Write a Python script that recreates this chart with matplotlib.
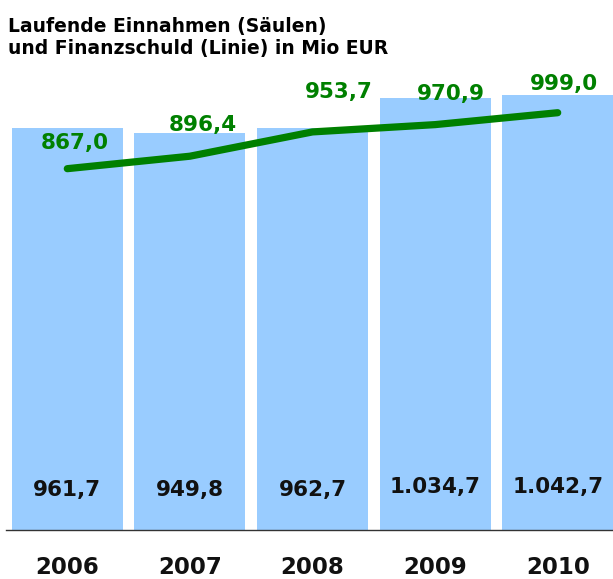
import matplotlib
matplotlib.use("Agg")
import matplotlib.pyplot as plt
from matplotlib import transforms

years = ["2006", "2007", "2008", "2009", "2010"]
einnahmen = [961.7, 949.8, 962.7, 1034.7, 1042.7]
schuld = [867.0, 896.4, 953.7, 970.9, 999.0]
einnahmen_labels = ["961,7", "949,8", "962,7", "1.034,7", "1.042,7"]
schuld_labels = ["867,0", "896,4", "953,7", "970,9", "999,0"]

W, H = 613, 579
fig = plt.figure(figsize=(W / 100, H / 100), dpi=100)
plt.rcParams['font.family'] = ['DejaVu Sans']

base_px = 529.5
top_px = 80
left_px = 6
right_px = 619
ax_h = base_px - top_px
ax = fig.add_axes([left_px / W, (H - base_px) / H, (right_px - left_px) / W, ax_h / H])
x = list(range(len(years)))
ax.bar(x, einnahmen, width=0.906, color="#99CCFF", zorder=1)
ax.set_xlim(-0.5, 4.5)
ax.set_ylim(0, ax_h / 0.417)
for s in ["top", "right", "left"]:
    ax.spines[s].set_visible(False)
ax.spines["bottom"].set_color("#333333")
ax.spines["bottom"].set_linewidth(1.0)
ax.set_yticks([])
ax.set_xticks([])

trans = transforms.blended_transform_factory(ax.transData, ax.transAxes)
label_y = [0.087, 0.087, 0.087, 0.095, 0.095]
for i, lab in enumerate(einnahmen_labels):
    ax.text(i, label_y[i], lab, transform=trans, ha="center", va="center",
            fontsize=15.5, fontweight="bold", color="#111111")

for i, yr in enumerate(years):
    ax.text(i, (base_px - 574) / ax_h, yr, transform=trans, ha="center",
            va="baseline", fontsize=16.5, fontweight="bold", color="#111111",
            clip_on=False)

ax2 = ax.twinx()
ax2.set_ylim(16, 16 + ax_h / 0.424)
ax2.plot(x, schuld, color="#008000", linewidth=5.2, solid_capstyle="round",
         solid_joinstyle="round", zorder=3)
ax2.set_yticks([])
for s in ["top", "right", "left", "bottom"]:
    ax2.spines[s].set_visible(False)
offsets = [(7, 26), (13, 31), (26, 40), (16, 31), (6, 29)]
for i, lab in enumerate(schuld_labels):
    ax2.annotate(lab, (i, schuld[i]), xytext=offsets[i], textcoords="offset pixels",
                 ha="center", va="center", fontsize=15.5, fontweight="bold",
                 color="#008000", annotation_clip=False)

fig.text(8 / W, 1 - 32 / H, "Laufende Einnahmen (Säulen)", fontsize=13.5,
         fontweight="bold", ha="left", va="baseline")
fig.text(8 / W, 1 - 54 / H, "und Finanzschuld (Linie) in Mio EUR", fontsize=13.5,
         fontweight="bold", ha="left", va="baseline")

fig.savefig("out.png", dpi=100)
